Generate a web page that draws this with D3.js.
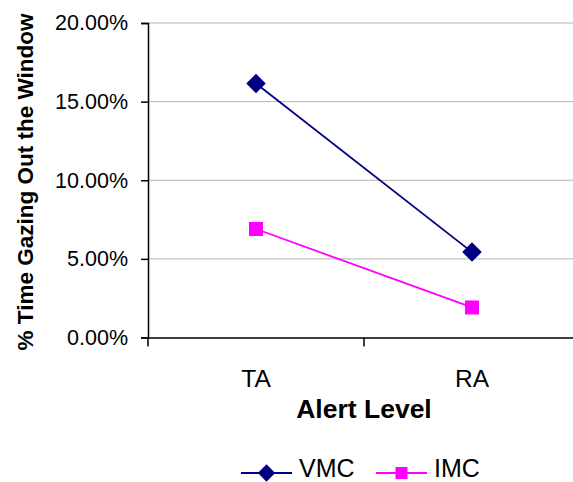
<!DOCTYPE html>
<html>
<head>
<meta charset="utf-8">
<script src="https://cdn.jsdelivr.net/npm/d3@7"></script>
<style>
  body { margin: 0; background: #fff; }
  text { font-family: Arial, "Liberation Sans", sans-serif; fill: #000; }
</style>
</head>
<body>
<svg id="chart" width="573" height="482"></svg>
<script>
const categories = ["TA", "RA"];
const vmc = [0.1615, 0.0543];
const imc = [0.0690, 0.0191];
const yTicks = [0, 0.05, 0.10, 0.15, 0.20];

const svg = d3.select("#chart");
const m = { left: 148, top: 23, right: -7, bottom: 144.5 };
const W = 573, H = 482;
const x = d3.scaleBand().domain(categories).range([m.left, W - m.right]);
const y = d3.scaleLinear().domain([0, 0.2]).range([H - m.bottom, m.top]);

// gridlines
svg.append("g").selectAll("line").data(yTicks.filter(d => d > 0)).enter().append("line")
  .attr("x1", m.left).attr("x2", W).attr("y1", d => y(d)).attr("y2", d => y(d))
  .attr("stroke", "#b4b4b4").attr("stroke-width", 1);

// y axis
const yAx = svg.append("g").attr("transform", `translate(${m.left},0)`)
  .call(d3.axisLeft(y).tickValues(yTicks).tickFormat(d3.format(".2%")).tickSize(7).tickPadding(13));
yAx.select(".domain").attr("stroke", "#000").attr("stroke-width", 1.5);
yAx.selectAll(".tick line").attr("stroke", "#000").attr("stroke-width", 1.5);
yAx.selectAll("text").style("font-size", "21.5px").attr("font-family", "Arial, 'Liberation Sans', sans-serif");

// x axis
const xAx = svg.append("g").attr("transform", `translate(0,${y(0)})`)
  .call(d3.axisBottom(x).tickSize(0).tickPadding(32));
xAx.select(".domain").attr("stroke", "#000").attr("stroke-width", 1.5);
xAx.selectAll("text").style("font-size", "24.5px").attr("font-family", "Arial, 'Liberation Sans', sans-serif");
const bounds = [x.range()[0], x(categories[1]), x.range()[1]];
svg.append("g").selectAll("line").data(bounds).enter().append("line")
  .attr("x1", d => d).attr("x2", d => d).attr("y1", y(0)).attr("y2", y(0) + 9)
  .attr("stroke", "#000").attr("stroke-width", 1.5);

// axis titles
svg.append("text").attr("x", 364).attr("y", 418)
  .attr("text-anchor", "middle").style("font-size", "26.5px").style("font-weight", "bold")
  .text("Alert Level");
svg.append("text").attr("transform", "translate(33,182) rotate(-90)")
  .attr("text-anchor", "middle").style("font-size", "22.5px").style("font-weight", "bold")
  .text("% Time Gazing Out the Window");

const cx = d => x(d) + x.bandwidth() / 2;
const line = d3.line().x((d, i) => cx(categories[i])).y(d => y(d));

svg.append("path").datum(imc).attr("d", line).attr("fill", "none")
  .attr("stroke", "#ff00ff").attr("stroke-width", 1.8);
svg.append("path").datum(vmc).attr("d", line).attr("fill", "none")
  .attr("stroke", "#000080").attr("stroke-width", 1.8);

const diamond = d3.symbol().type(d3.symbolSquare).size(190);
svg.append("g").selectAll("path").data(vmc).enter().append("path")
  .attr("d", diamond)
  .attr("transform", (d, i) => `translate(${cx(categories[i])},${y(d)}) rotate(45)`)
  .attr("fill", "#000080");
svg.append("g").selectAll("rect").data(imc).enter().append("rect")
  .attr("x", (d, i) => cx(categories[i]) - 7).attr("y", d => y(d) - 7)
  .attr("width", 14).attr("height", 14).attr("fill", "#ff00ff");

// legend
const legend = [
  { name: "VMC", color: "#000080", shape: "diamond", x: 241 },
  { name: "IMC", color: "#ff00ff", shape: "square", x: 376 }
];
const ly = 473;
const lg = svg.append("g").selectAll("g").data(legend).enter().append("g")
  .attr("transform", d => `translate(${d.x},${ly})`);
lg.append("line").attr("x1", 0).attr("x2", 51).attr("y1", 0).attr("y2", 0)
  .attr("stroke", d => d.color).attr("stroke-width", 1.8);
lg.filter(d => d.shape === "diamond").append("path")
  .attr("d", d3.symbol().type(d3.symbolSquare).size(150))
  .attr("transform", "translate(25.5,0) rotate(45)").attr("fill", d => d.color);
lg.filter(d => d.shape === "square").append("rect")
  .attr("x", 19.5).attr("y", -6).attr("width", 12).attr("height", 12).attr("fill", d => d.color);
lg.append("text").attr("x", 58).attr("y", 4).style("font-size", "25px").text(d => d.name);
</script>
</body>
</html>
